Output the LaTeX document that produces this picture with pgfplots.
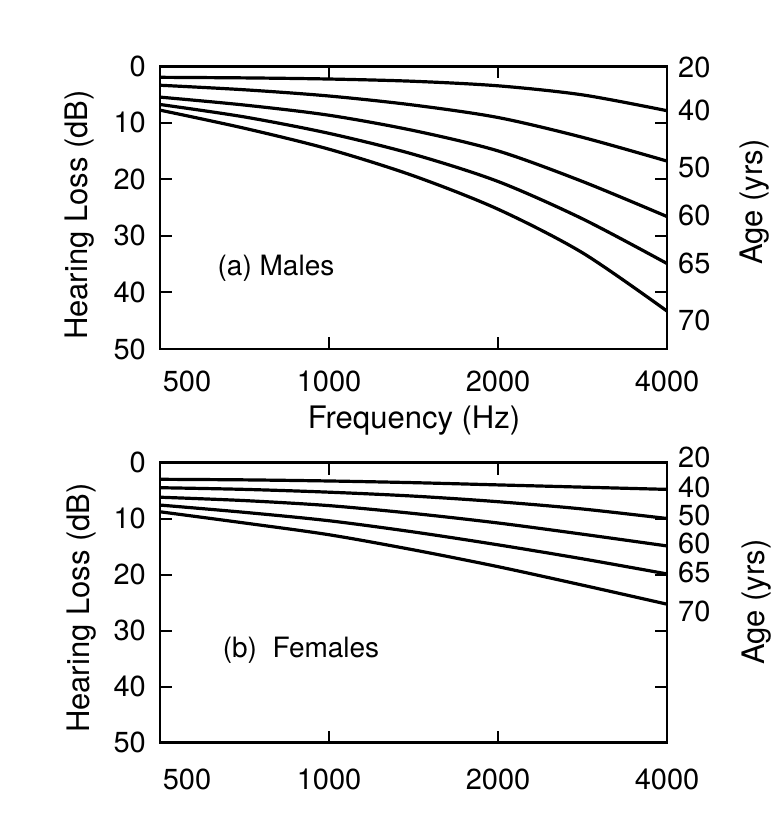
\documentclass[border=0pt]{standalone}
\usepackage{pgfplots}
\pgfplotsset{compat=1.18}
\usepackage{fontspec}
\setmainfont{TeX Gyre Heros}
\newcommand{\tk}{\fontsize{29}{33}\selectfont}
\newcommand{\lb}{\fontsize{31}{35}\selectfont}
\newcommand{\an}{\fontsize{28}{32}\selectfont}
\pgfplotsset{
  every axis plot/.append style={line width=3.2pt, black, smooth},
}
\begin{document}
\begin{tikzpicture}
\path (0pt,0pt) rectangle (774pt,828pt);
% ---------- (a) Males
\begin{axis}[width=507pt, scale only axis,
    xmode=log, xmin=500, xmax=4000,
    ymin=0, ymax=50, y dir=reverse,
    xtick={500,1000,2000,4000},
    xticklabels={\hspace*{54pt}500,1000,2000,4000},
    ytick={0,10,20,30,40,50},
    tick align=inside, xtick pos=both, ytick pos=both,
    xticklabel pos=bottom, yticklabel pos=left,
    major tick length=12pt, minor tick num=0,
    axis line style={line width=2.2pt}, every tick/.style={black,line width=2pt},
    tick label style={font=\tk, inner sep=0pt},
    yticklabel style={xshift=-14pt},
    /pgf/number format/assume math mode=true,
    at={(160pt,479pt)}, anchor=south west, height=283pt,
    xticklabel style={yshift=-22pt}]
\addplot[no marks] coordinates {(500,0) (1000,0) (2000,0) (4000,0)};
\addplot[no marks] coordinates {(500,2.0) (707,2.1) (1000,2.3) (1414,2.7) (2000,3.5) (2828,5.1) (4000,7.9)};
\addplot[no marks] coordinates {(500,3.4) (707,4.2) (1000,5.3) (1414,6.9) (2000,9.1) (2828,12.6) (4000,16.8)};
\addplot[no marks] coordinates {(500,5.5) (707,6.9) (1000,8.7) (1414,11.4) (2000,15.0) (2828,20.4) (4000,26.6)};
\addplot[no marks] coordinates {(500,6.8) (707,9.0) (1000,11.9) (1414,15.6) (2000,20.4) (2828,27.0) (4000,34.9)};
\addplot[no marks] coordinates {(500,7.8) (707,11.0) (1000,14.7) (1414,19.4) (2000,25.3) (2828,33.0) (4000,43.3)};
\end{axis}
% ---------- (b) Females
\begin{axis}[width=507pt, scale only axis,
    xmode=log, xmin=500, xmax=4000,
    ymin=0, ymax=50, y dir=reverse,
    xtick={500,1000,2000,4000},
    xticklabels={\hspace*{54pt}500,1000,2000,4000},
    ytick={0,10,20,30,40,50},
    tick align=inside, xtick pos=both, ytick pos=both,
    xticklabel pos=bottom, yticklabel pos=left,
    major tick length=12pt, minor tick num=0,
    axis line style={line width=2.2pt}, every tick/.style={black,line width=2pt},
    tick label style={font=\tk, inner sep=0pt},
    yticklabel style={xshift=-14pt},
    /pgf/number format/assume math mode=true,
    at={(160pt,85.5pt)}, anchor=south west, height=280pt,
    xticklabel style={yshift=-26pt}]
\addplot[no marks] coordinates {(500,0) (1000,0) (2000,0) (4000,0)};
\addplot[no marks] coordinates {(500,3.0) (707,3.1) (1000,3.3) (1414,3.6) (2000,4.0) (2828,4.4) (4000,4.8)};
\addplot[no marks] coordinates {(500,4.5) (707,4.8) (1000,5.3) (1414,6.0) (2000,7.0) (2828,8.3) (4000,10.0)};
\addplot[no marks] coordinates {(500,6.2) (707,6.8) (1000,7.7) (1414,9.1) (2000,10.8) (2828,12.8) (4000,14.9)};
\addplot[no marks] coordinates {(500,7.6) (707,8.9) (1000,10.4) (1414,12.4) (2000,14.7) (2828,17.2) (4000,19.9)};
\addplot[no marks] coordinates {(500,8.8) (707,10.8) (1000,12.9) (1414,15.6) (2000,18.6) (2828,21.9) (4000,25.3)};
\end{axis}
% ---------- labels
\node[rotate=90, font=\lb, inner sep=0pt] at (80pt,613pt) {Hearing Loss (dB)};
\node[rotate=90, font=\lb, inner sep=0pt] at (82pt,220pt) {Hearing Loss (dB)};
\node[rotate=90, font=\lb, inner sep=0pt] at (755pt,626pt) {Age (yrs)};
\node[rotate=90, font=\lb, inner sep=0pt] at (757pt,226pt) {Age (yrs)};
\node[font=\lb, inner sep=0pt] at (414pt,407pt) {Frequency (Hz)};
\node[font=\an, inner sep=0pt] at (276pt,560pt) {(a) Males};
\node[font=\an, inner sep=0pt] at (301pt,178pt) {(b)\ \ Females};
% right age labels (a)
\foreach \t/\py in {20/67,40/110,50/167,60/215,65/263,70/320}
  {\node[font=\tk, inner sep=0pt, anchor=west] at (678pt,{(828-\py)*1pt}) {\t};}
% right age labels (b)
\foreach \t/\py in {20/457,40/487,50/515,60/543,65/572,70/611}
  {\node[font=\tk, inner sep=0pt, anchor=west] at (678pt,{(828-\py)*1pt}) {\t};}
\end{tikzpicture}
\end{document}
